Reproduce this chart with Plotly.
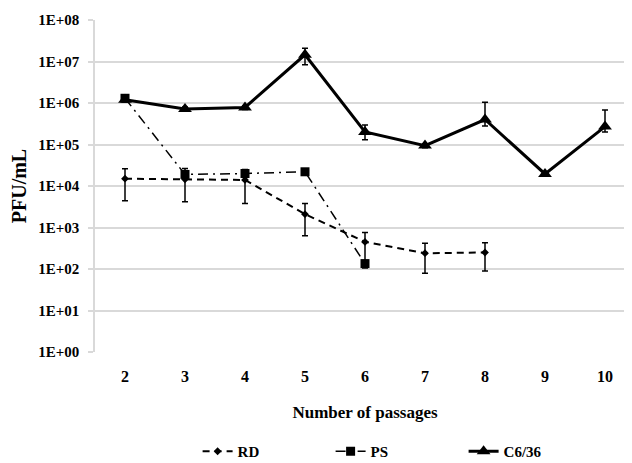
import plotly.graph_objects as go

passages = [2, 3, 4, 5, 6, 7, 8, 9, 10]
tick_labels = ["2", "3", "4", "5", "6", "7", "8", "9", "10"]
y_tick_vals = [1, 10, 100, 1e3, 1e4, 1e5, 1e6, 1e7, 1e8]
y_tick_text = ["1E+00", "1E+01", "1E+02", "1E+03", "1E+04", "1E+05", "1E+06", "1E+07", "1E+08"]

rd_x = [2, 3, 4, 5, 6, 7, 8]
rd_y = [1.5e4, 1.45e4, 1.4e4, 2.1e3, 4.5e2, 2.4e2, 2.5e2]
rd_err_up = [1.1e4, 1.2e4, 1.1e4, 1.7e3, 3.1e2, 1.8e2, 1.8e2]
rd_err_down = [1.06e4, 1.03e4, 1.02e4, 1.47e3, 3.45e2, 1.61e2, 1.61e2]

ps_x = [2, 3, 4, 5, 6]
ps_y = [1.3e6, 1.9e4, 2.0e4, 2.2e4, 1.35e2]
ps_err_up = [1.5e5, 3e3, 2e3, 2e3, 15]
ps_err_down = [1.5e5, 3e3, 2e3, 2e3, 25]

c6_x = [2, 3, 4, 5, 6, 7, 8, 9, 10]
c6_y = [1.2e6, 7.2e5, 7.8e5, 1.45e7, 2.0e5, 9.4e4, 4.0e5, 1.95e4, 2.7e5]
c6_err_up = [1.5e5, 8e4, 8e4, 6.5e6, 9.5e4, 1e4, 6.4e5, 2e3, 4.1e5]
c6_err_down = [1.5e5, 8e4, 8e4, 6.2e6, 7e4, 1e4, 1.2e5, 2e3, 7e4]

serif = "Liberation Serif"

fig = go.Figure()

fig.add_trace(go.Scatter(
    x=rd_x, y=rd_y, name="RD", mode="lines+markers",
    line=dict(color="black", width=2, dash="7px,5px"),
    marker=dict(symbol="diamond", size=6, color="black"),
    error_y=dict(type="data", array=rd_err_up, arrayminus=rd_err_down,
                 color="black", thickness=1.5, width=3),
))
fig.add_trace(go.Scatter(
    x=ps_x, y=ps_y, name="PS", mode="lines+markers",
    line=dict(color="black", width=1.5, dash="10px,5px,2px,5px"),
    marker=dict(symbol="square", size=9, color="black"),
    error_y=dict(type="data", array=ps_err_up, arrayminus=ps_err_down,
                 color="black", thickness=1.5, width=3),
))
fig.add_trace(go.Scatter(
    x=c6_x, y=c6_y, name="C6/36", mode="lines+markers",
    line=dict(color="black", width=3),
    marker=dict(symbol="triangle-up", size=12, color="black"),
    error_y=dict(type="data", array=c6_err_up, arrayminus=c6_err_down,
                 color="black", thickness=1.5, width=3),
))

fig.update_layout(
    width=627, height=455,
    margin=dict(l=87, r=0, t=12, b=111, autoexpand=False),
    paper_bgcolor="white", plot_bgcolor="white",
    font=dict(family=serif, color="black"),
    showlegend=True,
    legend=dict(orientation="h", x=0.19, y=-0.25, xanchor="left", yanchor="top",
                font=dict(family=serif, size=15, weight="bold"),
                entrywidth=88, itemwidth=30),
    xaxis=dict(
        range=[1.5, 10.5], tickmode="array", tickvals=passages, ticktext=tick_labels,
        showgrid=False, zeroline=False, showline=False,
        ticks="outside", ticklen=10, tickcolor="rgba(0,0,0,0)",
        tickfont=dict(family=serif, size=16, weight="bold"),
        title=dict(text="Number of passages", standoff=21,
                   font=dict(family=serif, size=17, weight="bold")),
    ),
    yaxis=dict(
        type="log", range=[0, 8], tickmode="array", tickvals=y_tick_vals, ticktext=y_tick_text,
        showgrid=True, gridcolor="#d9d9d9", gridwidth=1.5,
        zeroline=False, showline=True, linecolor="#d9d9d9", linewidth=1.5,
        ticks="outside", ticklen=5, tickcolor="#d9d9d9", tickwidth=1.5,
        ticklabelstandoff=6,
        tickfont=dict(family=serif, size=15, weight="bold"),
        title=dict(text="PFU/mL", standoff=10,
                   font=dict(family=serif, size=20, weight="bold")),
    ),
)

fig.write_html("out.html")
